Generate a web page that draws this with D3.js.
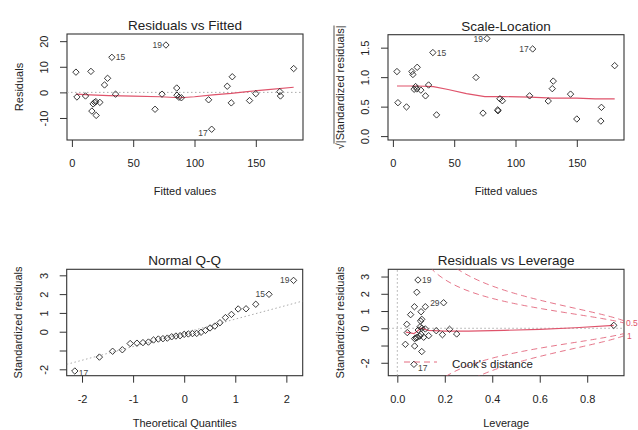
<!DOCTYPE html>
<html lang="en">
<head>
<meta charset="utf-8">
<title>lm diagnostics</title>
<script src="https://cdn.jsdelivr.net/npm/d3@7"></script>
<style>
body { margin: 0; background: #fff; }
text { font-family: "Liberation Sans", Arial, sans-serif; }
</style>
</head>
<body>
<script>
// --- data ---
var fitted = [3.3, 4.1, 11.1, 15.5, 16.3, 17.3, 18.5, 19.5, 22.8, 19.8, 26.6, 29.1, 32.6, 35.6, 67.8, 76.7,
              73.5, 85.5, 85.7, 87.3, 89.3, 111.5, 114.0, 126.7, 130.8, 130.0, 144.9, 150.0, 169.6, 170.1, 180.9];
var residuals = [7.9, -1.8, -1.4, 8.2, -7.3, -4.5, -3.9, -3.6, -3.9, -9.0, 2.9, 5.5, 13.7, -0.7, -6.6, 18.5,
                 -0.7, 1.7, -1.1, -1.9, -2.1, -2.9, -14.4, 2.4, 6.1, -4.1, -3.2, -0.5, 0.3, -1.4, 9.3];
var sqrtStdRes = [1.095, 0.567, 0.495, 1.095, 1.045, 0.795, 0.84, 0.80, 0.78, 1.167, 0.683, 0.867, 1.417, 0.36, 0.995, 1.655,
                  0.39, 0.445, 0.43, 0.633, 0.60, 0.683, 1.478, 0.595, 0.933, 0.805, 0.712, 0.29, 0.255, 0.488, 1.195];
var obsIds = {12: "15", 15: "19", 22: "17"};

var resSmoothX = [3.3, 15, 30, 50, 72, 88, 100, 115, 130, 143, 160, 180.9];
var resSmoothY = [-0.7, -1.0, -1.3, -1.5, -1.7, -2.1, -1.7, -1.0, -0.4, 0.3, 1.1, 2.0];
var slSmoothX = [3.3, 20, 33, 45, 60, 75, 90, 112, 130, 150, 165, 180.9];
var slSmoothY = [0.85, 0.85, 0.84, 0.79, 0.72, 0.67, 0.67, 0.66, 0.645, 0.645, 0.63, 0.63];

var theoQuantiles = [-2.141, -1.660, -1.401, -1.211, -1.057, -0.925, -0.807, -0.700, -0.600, -0.506, -0.416,
                     -0.330, -0.245, -0.162, -0.081, 0, 0.081, 0.162, 0.245, 0.330, 0.416, 0.506, 0.600, 0.700,
                     0.807, 0.925, 1.057, 1.211, 1.401, 1.660, 2.141];
var sortedStdRes = [-2.09, -1.35, -1.04, -0.96, -0.63, -0.61, -0.58, -0.55, -0.44, -0.39, -0.37, -0.34, -0.27,
                    -0.23, -0.21, -0.14, -0.12, -0.10, -0.09, -0.03, 0.07, 0.20, 0.30, 0.48, 0.75, 0.92, 1.21,
                    1.22, 1.46, 1.99, 2.73];
var qqIds = {0: "17", 29: "15", 30: "19"};
var qqIntercept = -0.06, qqSlope = 0.729;

var leverage = [0.087, 0.082, 0.072, 0.118, 0.100, 0.056, 0.195, 0.103, 0.098, 0.040, 0.096, 0.103, 0.118, 0.042,
                0.088, 0.164, 0.220, 0.190, 0.250, 0.132, 0.100, 0.094, 0.084, 0.073, 0.079, 0.111, 0.034, 0.073,
                0.103, 0.070, 0.912];
var stdRes = [2.80, 2.09, 1.25, 1.25, 0.96, 0.79, 1.48, 0.52, 0.42, 0.23, 0.09, 0.00, -0.04, -0.25, -0.10, -0.14,
              -0.06, -0.37, -0.33, -0.43, -0.35, -0.46, -0.52, -0.60, -0.56, -0.52, -0.93, -1.03, -1.35, -2.09, 0.17];
var levIds = {0: "19", 6: "29", 29: "17"};
var levSmoothX = [0.036, 0.07, 0.10, 0.13, 0.20, 0.30, 0.45, 0.60, 0.75, 0.912];
var levSmoothY = [-0.22, -0.31, 0.0, -0.12, -0.17, -0.17, -0.12, -0.06, 0.03, 0.17];
var cookLevels = [0.5, 1];
var modelRank = 4;

var red = "#DF536B";
var ink = "#222";

var svg = d3.select("body").append("svg").attr("width", 638).attr("height", 430);

function panel(cfg) {
    var x = d3.scaleLinear().domain(cfg.xDomain).range([cfg.left, cfg.left + cfg.w]);
    var y = d3.scaleLinear().domain(cfg.yDomain).range([cfg.top + cfg.h, cfg.top]);
    var g = svg.append("g");
    svg.append("clipPath").attr("id", "clip" + cfg.id).append("rect")
        .attr("x", cfg.left).attr("y", cfg.top).attr("width", cfg.w).attr("height", cfg.h);

    var xa = g.append("g")
        .attr("transform", "translate(0," + (cfg.top + cfg.h) + ")")
        .call(d3.axisBottom(x).tickValues(cfg.xTicks).tickSize(7).tickFormat(function(d, i) { return cfg.xLabels[i]; }));
    xa.select(".domain").remove();
    xa.attr("font-family", null).attr("font-size", null);
    xa.selectAll("line").attr("stroke", "#333");
    xa.selectAll("text").attr("y", 27).attr("dy", 0).attr("fill", ink).style("font-size", "11px");

    var ya = g.append("g")
        .attr("transform", "translate(" + cfg.left + ",0)")
        .call(d3.axisLeft(y).tickValues(cfg.yTicks).tickSize(7).tickFormat(function(d, i) { return cfg.yLabels[i]; }));
    ya.select(".domain").remove();
    ya.attr("font-family", null).attr("font-size", null);
    ya.selectAll("line").attr("stroke", "#333");
    ya.selectAll("text")
        .attr("transform", "rotate(-90)")
        .attr("x", 0).attr("y", -19).attr("dy", 0)
        .attr("text-anchor", "middle")
        .attr("fill", ink).style("font-size", "11px");

    g.append("rect")
        .attr("x", cfg.left).attr("y", cfg.top).attr("width", cfg.w).attr("height", cfg.h)
        .attr("fill", "none").attr("stroke", "#333").attr("stroke-width", 1.1);

    g.append("text")
        .attr("x", cfg.left + cfg.w / 2).attr("y", cfg.top - 4)
        .attr("text-anchor", "middle").attr("fill", ink)
        .style("font-size", "13.5px")
        .text(cfg.title);

    g.append("text")
        .attr("x", cfg.left + cfg.w / 2).attr("y", Math.min(cfg.top + cfg.h + 55, 427))
        .attr("text-anchor", "middle").attr("fill", ink)
        .style("font-size", "11px")
        .text(cfg.xTitle);

    if (cfg.yTitle) {
        g.append("text")
            .attr("transform", "translate(" + (cfg.left - 44.5) + "," + (cfg.top + cfg.h / 2) + ") rotate(-90)")
            .attr("text-anchor", "middle").attr("fill", ink)
            .style("font-size", "11px")
            .text(cfg.yTitle);
    }

    var plot = g.append("g").attr("clip-path", "url(#clip" + cfg.id + ")");
    return {g: g, plot: plot, x: x, y: y};
}

var diamond = "M0,-3.2L3.2,0L0,3.2L-3.2,0Z";

function points(p, xs, ys) {
    p.g.append("g").selectAll("path")
        .data(xs)
        .enter()
        .append("path")
        .attr("d", diamond)
        .attr("transform", function(d, i) { return "translate(" + p.x(d) + "," + p.y(ys[i]) + ")"; })
        .attr("fill", "none")
        .attr("stroke", ink)
        .attr("stroke-width", 0.9);
}

function labels(p, xs, ys, ids, sides, dys) {
    Object.keys(ids).forEach(function(k, j) {
        var left = sides[j] === "l";
        p.g.append("text")
            .attr("x", p.x(xs[k]) + (left ? -4 : 4))
            .attr("y", p.y(ys[k]) + 3 + (dys ? dys[j] : 0))
            .attr("text-anchor", left ? "end" : "start")
            .attr("fill", "#444")
            .style("font-size", "8.5px")
            .text(ids[k]);
    });
}

function smooth(p, xs, ys, col, dash, width, op) {
    var line = d3.line()
        .x(function(d) { return p.x(d); })
        .y(function(d, i) { return p.y(ys[i]); });
    p.plot.append("path")
        .attr("d", line(xs))
        .attr("fill", "none")
        .attr("stroke", col)
        .attr("stroke-width", width || 1.2)
        .attr("stroke-opacity", op || 1)
        .attr("stroke-dasharray", dash || null);
}

function refLine(p, x1, y1, x2, y2) {
    p.plot.append("line")
        .attr("x1", p.x(x1)).attr("y1", p.y(y1))
        .attr("x2", p.x(x2)).attr("y2", p.y(y2))
        .attr("stroke", "#aaa").attr("stroke-width", 1)
        .attr("stroke-dasharray", "1.5,2.5");
}

// 1. Residuals vs Fitted
var p1 = panel({
    id: 1, left: 67, top: 34, w: 236, h: 106,
    xDomain: [-4, 188.5], yDomain: [-18.6, 22.8],
    xTicks: [0, 50, 100, 150], xLabels: ["0", "50", "100", "150"],
    yTicks: [-10, 0, 10, 20], yLabels: ["-10", "0", "10", "20"],
    title: "Residuals vs Fitted", xTitle: "Fitted values", yTitle: "Residuals"
});
refLine(p1, -4, 0, 188.5, 0);
smooth(p1, resSmoothX, resSmoothY, red);
points(p1, fitted, residuals);
labels(p1, fitted, residuals, obsIds, ["r", "l", "l"], [0, 0, 4]);

// 2. Scale-Location
var p2 = panel({
    id: 2, left: 388, top: 34.7, w: 236, h: 105.3,
    xDomain: [-4, 188.5], yDomain: [-0.066, 1.72],
    xTicks: [0, 50, 100, 150], xLabels: ["0", "50", "100", "150"],
    yTicks: [0, 0.5, 1, 1.5], yLabels: ["0.0", "0.5", "1.0", "1.5"],
    title: "Scale-Location", xTitle: "Fitted values", yTitle: null
});
smooth(p2, slSmoothX, slSmoothY, red);
points(p2, fitted, sqrtStdRes);
labels(p2, fitted, sqrtStdRes, obsIds, ["r", "l", "l"], [0, 0, 0]);

// sqrt(|Standardized residuals|) axis title
var yt = p2.g.append("g")
    .attr("transform", "translate(" + (388 - 44.5) + "," + (34.7 + 105.3 / 2) + ") rotate(-90)");
var ytText = yt.append("text").attr("text-anchor", "middle").attr("fill", ink).style("font-size", "11px");
var rad = ytText.append("tspan").text("\u221A");
ytText.append("tspan").text("|Standardized residuals|");
var totalW = ytText.node().getComputedTextLength();
var radW = rad.node().getComputedTextLength();
yt.append("line")
    .attr("x1", -totalW / 2 + radW - 0.5).attr("x2", totalW / 2)
    .attr("y1", -9.5).attr("y2", -9.5)
    .attr("stroke", ink).attr("stroke-width", 0.8);

// 3. Normal Q-Q
var p3 = panel({
    id: 3, left: 66.7, top: 269.3, w: 236, h: 106.4,
    xDomain: [-2.3, 2.32], yDomain: [-2.34, 3.32],
    xTicks: [-2, -1, 0, 1, 2], xLabels: ["-2", "-1", "0", "1", "2"],
    yTicks: [-2, -1, 0, 1, 2, 3], yLabels: ["-2", "", "0", "1", "2", "3"],
    title: "Normal Q-Q", xTitle: "Theoretical Quantiles", yTitle: "Standardized residuals"
});
refLine(p3, -2.3, qqIntercept + qqSlope * -2.3, 2.32, qqIntercept + qqSlope * 2.32);
points(p3, theoQuantiles, sortedStdRes);
labels(p3, theoQuantiles, sortedStdRes, qqIds, ["r", "l", "l"], [2, 0, 0]);

// 4. Residuals vs Leverage
var p4 = panel({
    id: 4, left: 388.3, top: 269.3, w: 235.7, h: 106.4,
    xDomain: [-0.038, 0.955], yDomain: [-2.75, 3.42],
    xTicks: [0, 0.2, 0.4, 0.6, 0.8], xLabels: ["0.0", "0.2", "0.4", "0.6", "0.8"],
    yTicks: [-2, -1, 0, 1, 2, 3], yLabels: ["-2", "", "0", "1", "2", "3"],
    title: "Residuals vs Leverage", xTitle: "Leverage", yTitle: "Standardized residuals"
});
refLine(p4, -0.038, 0, 0.955, 0);
refLine(p4, 0, -2.75, 0, 3.42);
var hMax = p4.x.domain()[1];
var hh = d3.range(101).map(function(i) { return 0.004 + i * (hMax - 0.004) / 100; });
cookLevels.forEach(function(D) {
    var up = hh.map(function(h) { return Math.sqrt(D * modelRank * (1 - h) / h); });
    smooth(p4, hh, up, red, "6,4", 1, 0.8);
    smooth(p4, hh, up.map(function(v) { return -v; }), red, "6,4", 1, 0.8);
});
smooth(p4, levSmoothX, levSmoothY, red);
points(p4, leverage, stdRes);
labels(p4, leverage, stdRes, levIds, ["r", "l", "r"], [0, 0, 4]);

// Cook's distance labels on the right edge
var yMult = Math.sqrt(modelRank * (1 - hMax) / hMax);
p4.g.append("text")
    .attr("x", 626).attr("y", p4.y(Math.sqrt(0.5) * yMult) + 3)
    .attr("fill", red).style("font-size", "8.5px").text("0.5");
p4.g.append("text")
    .attr("x", 627).attr("y", p4.y(-Math.sqrt(1) * yMult) + 3)
    .attr("fill", red).style("font-size", "8.5px").text("1");

// legend
p4.g.append("line")
    .attr("x1", 404).attr("x2", 437).attr("y1", 362).attr("y2", 362)
    .attr("stroke", red).attr("stroke-width", 1).attr("stroke-opacity", 0.85).attr("stroke-dasharray", "6,4");
p4.g.append("text")
    .attr("x", 452).attr("y", 368).attr("fill", ink)
    .style("font-size", "11.5px").text("Cook's distance");
</script>
</body>
</html>
